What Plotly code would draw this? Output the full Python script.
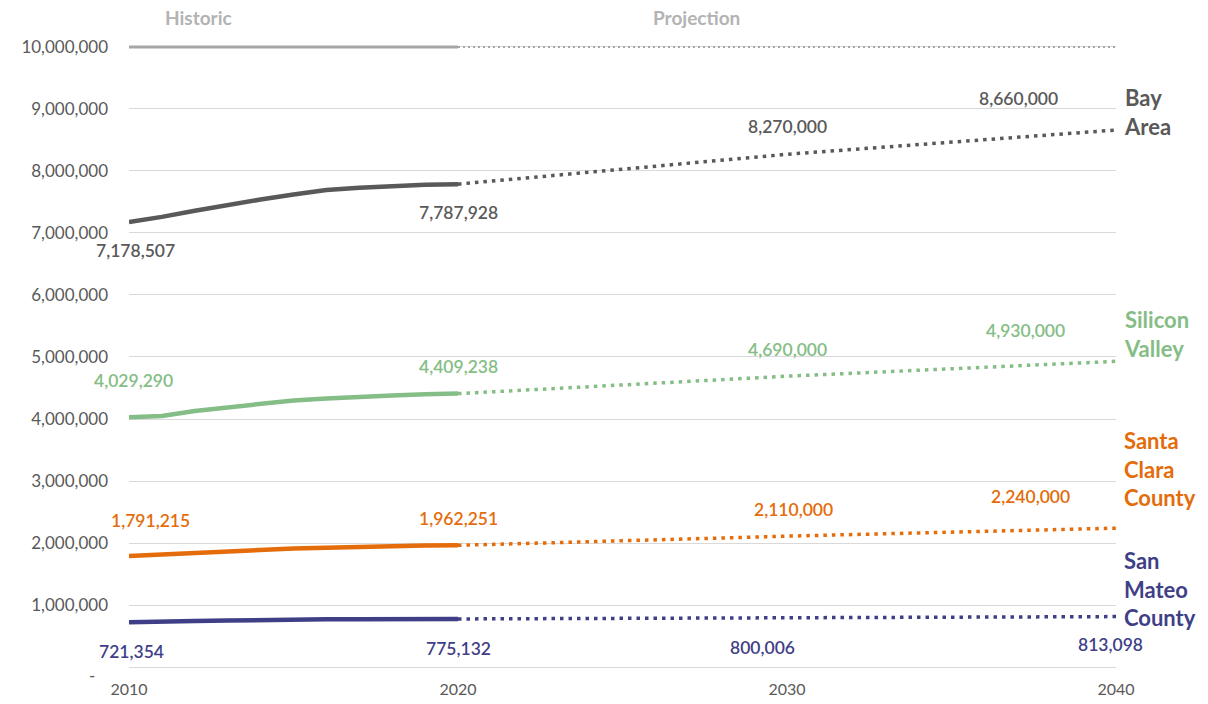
import plotly.graph_objects as go

# ---- data ----------------------------------------------------------------
hist_years = list(range(2010, 2021))
proj_years = [2020, 2030, 2040]

bay_area_hist = [7178507, 7260000, 7360000, 7455000, 7540000, 7620000,
                 7695000, 7730000, 7760000, 7780000, 7787928]
bay_area_proj = [7787928, 8270000, 8660000]

silicon_valley_hist = [4029290, 4050000, 4130000, 4190000, 4250000, 4300000,
                       4330000, 4360000, 4380000, 4400000, 4409238]
silicon_valley_proj = [4409238, 4690000, 4930000]

santa_clara_hist = [1791215, 1817000, 1842000, 1866000, 1889000, 1911000,
                    1925000, 1941000, 1953000, 1960000, 1962251]
santa_clara_proj = [1962251, 2110000, 2240000]

san_mateo_hist = [721354, 723000, 740000, 750000, 760000, 766000,
                  770000, 771000, 774000, 773000, 775132]
san_mateo_proj = [775132, 800006, 813098]

frame_top = 10000000  # top reference line separating historic / projection

y_tick_vals = [0, 1000000, 2000000, 3000000, 4000000, 5000000,
               6000000, 7000000, 8000000, 9000000, 10000000]
y_tick_text = ["", "1,000,000", "2,000,000", "3,000,000", "4,000,000",
               "5,000,000", "6,000,000", "7,000,000", "8,000,000",
               "9,000,000", "10,000,000"]
zero_tick_text = "-"   # accounting-style zero, placed just under the baseline
x_tick_vals = [2010, 2020, 2030, 2040]

# ---- styling -------------------------------------------------------------
FONT = "Lato"
series = [
    dict(name="Bay<br>Area", hist=bay_area_hist, proj=bay_area_proj,
         color="#595959", name_shift=18,
         # (xshift, yshift) for labels at 2010, 2020, 2030, 2040
         offs=[(6, -29), (0, -28), (0, 28), (-98, 32)]),
    dict(name="Silicon<br>Valley", hist=silicon_valley_hist, proj=silicon_valley_proj,
         color="#84bd85", name_shift=27,
         offs=[(4, 37), (0, 27), (0, 27), (-91, 31)]),
    dict(name="Santa<br>Clara<br>County", hist=santa_clara_hist, proj=santa_clara_proj,
         color="#e46c0a", name_shift=59,
         offs=[(21, 35), (0, 27), (6, 27), (-86, 32)]),
    dict(name="San<br>Mateo<br>County", hist=san_mateo_hist, proj=san_mateo_proj,
         color="#3f3f87", name_shift=28,
         offs=[(2, -29), (0, -30), (-25, -30), (-6, -28)]),
]

fig = go.Figure()

# reference line at the top of the scale
fig.add_trace(go.Scatter(x=[hist_years[0], hist_years[-1]], y=[frame_top, frame_top],
                         mode="lines", line=dict(color="#a6a6a6", width=3),
                         hoverinfo="skip", showlegend=False))
fig.add_trace(go.Scatter(x=[proj_years[0], proj_years[-1]], y=[frame_top, frame_top],
                         mode="lines", line=dict(color="#a6a6a6", width=2, dash="2px,3px"),
                         hoverinfo="skip", showlegend=False))

annotations = []
for s in series:
    fig.add_trace(go.Scatter(x=hist_years, y=s["hist"], mode="lines",
                             line=dict(color=s["color"], width=4.5),
                             showlegend=False))
    fig.add_trace(go.Scatter(x=proj_years, y=s["proj"], mode="lines",
                             line=dict(color=s["color"], width=3.5, dash="3.5px,5px"),
                             showlegend=False))
    label_pts = [(hist_years[0], s["hist"][0]), (proj_years[0], s["proj"][0]),
                 (proj_years[1], s["proj"][1]), (proj_years[2], s["proj"][2])]
    for (xv, yv), (dx, dy) in zip(label_pts, s["offs"]):
        annotations.append(dict(x=xv, y=yv, xref="x", yref="y",
                                text=f"{yv:,}", showarrow=False,
                                xshift=dx, yshift=dy,
                                font=dict(family=FONT, size=17.5, color=s["color"],
                                          weight=600)))
    annotations.append(dict(x=1, y=s["proj"][-1], xref="paper", yref="y",
                            text=s["name"], showarrow=False, xanchor="left",
                            align="left", xshift=6, yshift=s["name_shift"],
                            font=dict(family=FONT, size=22, color=s["color"],
                                      weight=700)))

for txt, xv in [("Historic", 2012.1), ("Projection", 2027.26)]:
    annotations.append(dict(x=xv, y=1, xref="x", yref="paper", text=txt,
                            showarrow=False, yanchor="middle", yshift=13,
                            font=dict(family=FONT, size=19, color="#b3b3b3",
                                      weight=700)))

annotations.append(dict(x=0, y=0, xref="paper", yref="y", text=zero_tick_text,
                        showarrow=False, xanchor="right", yanchor="middle",
                        xshift=-32, yshift=-8,
                        font=dict(family=FONT, size=17, color="#595959")))

fig.update_layout(
    width=1208, height=704,
    margin=dict(l=129, r=92, t=30, b=37),
    plot_bgcolor="white", paper_bgcolor="white",
    font=dict(family=FONT, color="#595959"),
    annotations=annotations,
    xaxis=dict(range=[2010, 2040], tickvals=x_tick_vals, showgrid=False,
               zeroline=False, showline=False, ticks="", automargin=False,
               ticklabelstandoff=11,
               tickfont=dict(family=FONT, size=16, color="#595959")),
    yaxis=dict(range=[0, 10274000], tickvals=y_tick_vals, ticktext=y_tick_text,
               showgrid=True, gridcolor="#d9d9d9", gridwidth=1,
               zeroline=True, zerolinecolor="#d9d9d9", zerolinewidth=1,
               showline=False, ticks="", ticklabelstandoff=20, automargin=False,
               tickfont=dict(family=FONT, size=17, color="#595959")),
)

fig.write_html("out.html")
